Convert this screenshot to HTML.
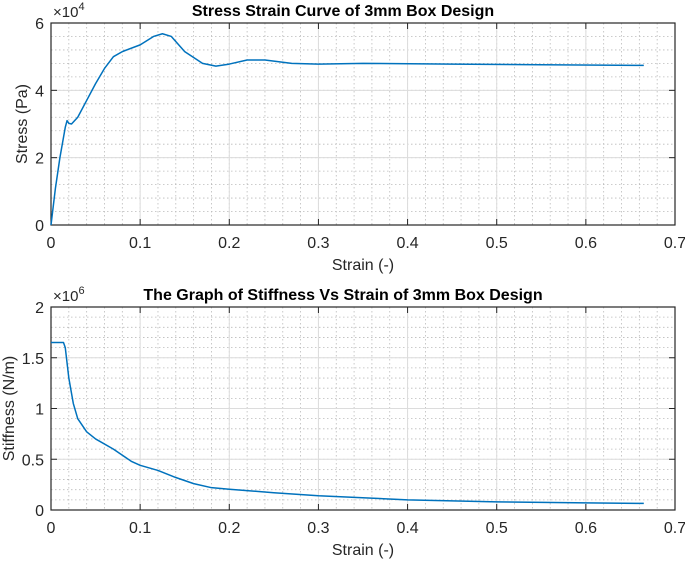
<!DOCTYPE html>
<html><head><meta charset="utf-8"><style>
body{margin:0;background:#fff;width:685px;height:563px;overflow:hidden}
svg{font-family:"Liberation Sans",Arial,sans-serif}
</style></head><body>
<svg id="c" width="685" height="563"></svg>
<script>
const strainTicks=[0,0.1,0.2,0.3,0.4,0.5,0.6,0.7];
const stressStrain=[0,0.005,0.01,0.016,0.018,0.02,0.023,0.03,0.04,0.05,0.06,0.07,0.08,0.1,0.115,0.125,0.135,0.15,0.17,0.185,0.2,0.22,0.24,0.27,0.3,0.35,0.45,0.55,0.665];
const stressVals=[0,1.1,2.0,2.9,3.1,3.02,3.0,3.2,3.7,4.2,4.65,5.0,5.15,5.35,5.6,5.68,5.6,5.15,4.8,4.72,4.78,4.9,4.9,4.8,4.78,4.8,4.78,4.76,4.74];
const stressTicks=[0,2,4,6];
const stiffStrain=[0,0.014,0.016,0.02,0.025,0.03,0.04,0.05,0.07,0.09,0.1,0.12,0.14,0.16,0.18,0.2,0.25,0.3,0.4,0.5,0.6,0.665];
const stiffVals=[1.65,1.65,1.6,1.3,1.05,0.9,0.77,0.7,0.6,0.48,0.44,0.39,0.32,0.26,0.22,0.205,0.17,0.14,0.1,0.08,0.07,0.065];
const stiffTicks=[0,0.5,1,1.5,2];
const svg=document.getElementById('c');
const NS='http://www.w3.org/2000/svg';
function mk(t,a,p){const e=document.createElementNS(NS,t);for(const k in a)e.setAttribute(k,a[k]);(p||svg).appendChild(e);return e;}
function panel(o){
  const g=mk('g',{});
  
  
  const L=51,R=675,T=o.top,B=o.bot;
  const sx=v=>L+(v-0)/0.7*(R-L), sy=v=>B-(v-o.ymin)/(o.ymax-o.ymin)*(B-T);
  for(let v=0;v<=0.7001;v+=0.02){const x=sx(v);const l=mk('line',{x1:x,x2:x,y1:T,y2:B,stroke:'#bbb','stroke-width':0.8,'stroke-dasharray':'1.5,2.5'},g);}
  for(let v=o.ymin;v<=o.ymax+1e-9;v+=o.ymin0){const y=sy(v);const l=mk('line',{x1:L,x2:R,y1:y,y2:y,stroke:'#bbb','stroke-width':0.8,'stroke-dasharray':'1.5,2.5'},g);}
  strainTicks.forEach(v=>{const x=sx(v);const l=mk('line',{x1:x,x2:x,y1:T,y2:B,stroke:'#dcdcdc','stroke-width':1},g);
    mk('line',{x1:x,x2:x,y1:B,y2:B-6,stroke:'#262626'},g);mk('line',{x1:x,x2:x,y1:T,y2:T+6,stroke:'#262626'},g);
    const t=mk('text',{x:x,y:B+23,'text-anchor':'middle','font-size':16,fill:'#262626'},g);t.textContent=String(v);});
  o.ticks.forEach(v=>{const y=sy(v);const l=mk('line',{x1:L,x2:R,y1:y,y2:y,stroke:'#dcdcdc','stroke-width':1},g);
    mk('line',{x1:L,x2:L+6,y1:y,y2:y,stroke:'#262626'},g);mk('line',{x1:R,x2:R-6,y1:y,y2:y,stroke:'#262626'},g);
    const t=mk('text',{x:L-7,y:y+6,'text-anchor':'end','font-size':16,fill:'#262626'},g);t.textContent=String(v);});
  const box=mk('rect',{x:L,y:T,width:R-L,height:B-T,fill:'none',stroke:'#262626','stroke-width':1.2},g);
  const p=mk('polyline',{points:o.xs.map((x,i)=>sx(x)+','+sy(o.ys[i])).join(' '),fill:'none',stroke:'#0072bd','stroke-width':1.5,'stroke-linejoin':'round'},g);
  
  const ti=mk('text',{x:(L+R)/2-20,y:T-7,'text-anchor':'middle','font-size':16,'font-weight':'bold',fill:'#000'},g);ti.textContent=o.title;
  const xl=mk('text',{x:(L+R)/2,y:B+45,'text-anchor':'middle','font-size':16,fill:'#262626'},g);xl.textContent='Strain (-)';
  const yl=mk('text',{x:0,y:0,'text-anchor':'middle','font-size':16,fill:'#262626',transform:`translate(${o.ylx},${(T+B)/2}) rotate(-90)`},g);yl.textContent=o.ylabel;
  const ex=mk('text',{x:L+2,y:T-6,'font-size':15,fill:'#262626'},g);ex.innerHTML='×10<tspan dy="-7" font-size="11">'+o.exp+'</tspan>';
}
panel({name:'stress-panel',top:23,bot:225,ymin:0,ymax:6,ymin0:0.4,ticks:stressTicks,xs:stressStrain,ys:stressVals,series:'stress-line',title:'Stress Strain Curve of 3mm Box Design',ylabel:'Stress (Pa)',exp:4,ylx:27});
panel({name:'stiffness-panel',top:307,bot:510,ymin:0,ymax:2,ymin0:0.1,ticks:stiffTicks,xs:stiffStrain,ys:stiffVals,series:'stiffness-line',title:'The Graph of Stiffness Vs Strain of 3mm Box Design',ylabel:'Stiffness (N/m)',exp:6,ylx:14});
</script>
</body></html>
